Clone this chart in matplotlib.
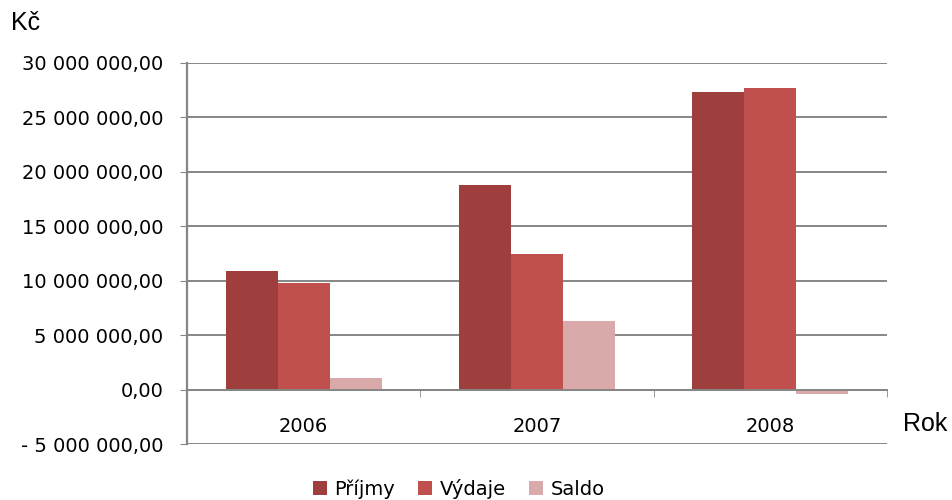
import matplotlib
matplotlib.use("Agg")
import matplotlib.pyplot as plt
import matplotlib.ticker as mticker
import numpy as np

# data (Kč)
years = ["2006", "2007", "2008"]
prijmy = [10.93e6, 18.83e6, 27.31e6]
vydaje = [9.83e6, 12.49e6, 27.74e6]
saldo = [1.10e6, 6.34e6, -0.43e6]

series_names = ["Příjmy", "Výdaje", "Saldo"]
colors = ["#9E3F3E", "#C0504D", "#DAAAAA"]

plt.rcParams['font.family'] = ['DejaVu Sans']

fig = plt.figure(figsize=(9.52, 5.0), dpi=100)
ax = fig.add_axes([0.1964, 0.112, 0.7353, 0.762])

x = np.arange(len(years))
w = 0.223
for i, (vals, name, c) in enumerate(zip([prijmy, vydaje, saldo], series_names, colors)):
    ax.bar(x + (i - 1) * w, vals, width=w, color=c, label=name, zorder=3)

ax.set_xlim(-0.5, 2.5)
ax.set_ylim(-5e6, 30e6)
ax.set_yticks(np.arange(-5e6, 30e6 + 1, 5e6))


def fmt(v, pos):
    s = f"{abs(v):,.2f}".replace(",", " ").replace(".", ",")
    return "- " + s if v < 0 else s


ax.yaxis.set_major_formatter(mticker.FuncFormatter(fmt))
ax.grid(axis='y', color='#868686', linewidth=1.4, zorder=0)
ax.set_axisbelow(True)

for s in ['top', 'right']:
    ax.spines[s].set_visible(False)
ax.spines['left'].set_color('#868686')
ax.spines['left'].set_linewidth(1.6)
ax.spines['bottom'].set_position(('data', 0))
ax.spines['bottom'].set_color('#868686')
ax.spines['bottom'].set_linewidth(1.4)
ax.spines['bottom'].set_zorder(4)

ax.set_xticks(x)
ax.set_xticklabels(years, fontsize=14)
ax.set_xticks([0.5, 1.5, 2.5], minor=True)
ax.tick_params(axis='x', which='major', length=0, pad=20)
ax.tick_params(axis='x', which='minor', length=5, color='#868686', direction='out')
ax.tick_params(axis='y', length=5, color='#868686', labelsize=14, pad=12)

fig.text(0.012, 0.955, "Kč", fontsize=18, family='Liberation Sans', va='center')
fig.text(0.949, 0.152, "Rok", fontsize=18, family='Liberation Sans', va='center', ha='left')

fig.legend(loc='center', bbox_to_anchor=(0.482, 0.022), ncol=3, frameon=False,
           fontsize=14, handlelength=0.7, handleheight=0.7, handletextpad=0.4,
           columnspacing=1.2)

fig.savefig("out.png", dpi=100, facecolor='white')
